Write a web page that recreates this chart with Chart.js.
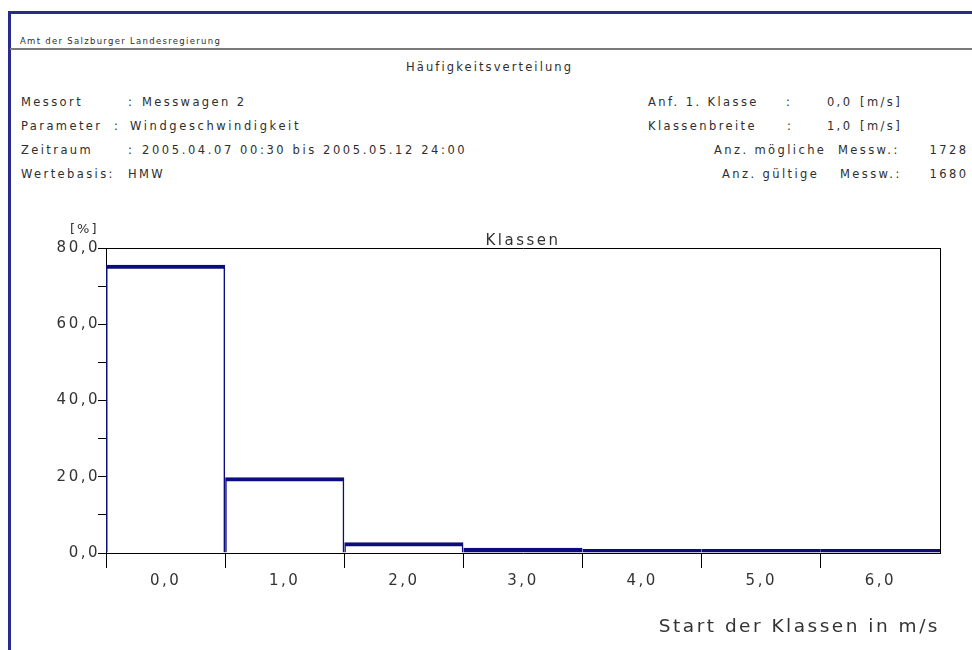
<!DOCTYPE html>
<html>
<head>
<meta charset="utf-8">
<script src="https://cdn.jsdelivr.net/npm/chart.js"></script>
<style>
  body { margin: 0; width: 972px; height: 650px; background: #fff; overflow: hidden; position: relative;
         font-family: "DejaVu Sans", sans-serif; color: #2e2e2e; }
  #frame { position: absolute; left: 8px; top: 11px; width: 990px; height: 700px;
           border-left: 3px solid #2a2a8e; border-top: 3px solid #2a2a8e; }
  #sep { position: absolute; left: 10px; top: 48px; width: 962px; border-top: 2px solid #7a7a7a; }
  .t { position: absolute; white-space: pre; line-height: 1; }
  #chart { position: absolute; left: 0; top: 200px; }
</style>
</head>
<body>
<div id="frame"></div>
<div id="sep"></div>
<canvas id="chart" width="972" height="450"></canvas>
<script>
var classes = ['0,0', '1,0', '2,0', '3,0', '4,0', '5,0', '6,0'];
var percent = [75.6, 19.9, 2.8, 1.4, 0.1, 0.1, 0.1];
var yTicks = ['0,0', '20,0', '40,0', '60,0', '80,0'];

// header texts, x / y = left edge (or right edge) and vertical centre
function label(text, x, y, size, spacing, align) {
  var el = document.createElement('div');
  el.className = 't';
  el.textContent = text;
  el.style.fontSize = size + 'px';
  el.style.letterSpacing = spacing + 'px';
  el.style.top = (y - size * 0.48) + 'px';
  if (align === 'right') el.style.right = (972 - x - spacing) + 'px';
  else el.style.left = x + 'px';
  document.body.appendChild(el);
}

label('Amt der Salzburger Landesregierung', 20, 41, 8.5, 1.3);
label('Häufigkeitsverteilung', 406, 68, 11.5, 2.1);

label('Messort', 21, 103, 11.5, 2.4);
label(':', 128, 103, 11.5, 2.4);
label('Messwagen 2', 142, 103, 11.5, 2.4);
label('Parameter', 21, 127, 11.5, 2.4);
label(':', 114, 127, 11.5, 2.4);
label('Windgeschwindigkeit', 130, 127, 11.5, 2.6);
label('Zeitraum', 21, 151, 11.5, 2.4);
label(':', 128, 151, 11.5, 2.4);
label('2005.04.07 00:30 bis 2005.05.12 24:00', 142, 151, 11.5, 2.6);
label('Wertebasis:', 21, 175, 11.5, 2.4);
label('HMW', 128, 175, 11.5, 2.4);

label('Anf. 1. Klasse', 648, 103, 11.5, 2.4);
label(':', 786, 103, 11.5, 2.4);
label('0,0', 850, 103, 11.5, 2.4, 'right');
label('[m/s]', 860, 103, 11.5, 2.4);
label('Klassenbreite', 648, 127, 11.5, 2.4);
label(':', 787, 127, 11.5, 2.4);
label('1,0', 850, 127, 11.5, 2.4, 'right');
label('[m/s]', 860, 127, 11.5, 2.4);
label('Anz. mögliche', 714, 151, 11.5, 2.4);
label('Messw.:', 838, 151, 11.5, 2.4);
label('1728', 966, 151, 11.5, 2.4, 'right');
label('Anz. gültige', 722, 175, 11.5, 2.4);
label('Messw.:', 840, 175, 11.5, 2.4);
label('1680', 966, 175, 11.5, 2.4, 'right');

label('[%]', 70, 228, 13, 2);

Chart.defaults.font.family = 'DejaVu Sans';
Chart.defaults.color = '#333';

var spacing = {
  id: 'spacing',
  beforeDraw: function(chart) { chart.ctx.letterSpacing = '2.5px'; }
};

var chart = new Chart(document.getElementById('chart'), {
  type: 'bar',
  data: {
    labels: classes,
    datasets: [{
      data: percent,
      backgroundColor: 'rgba(0,0,0,0)',
      borderColor: '#0c0c7e',
      borderSkipped: false,
      // small classes show up as a solid thick line on the base
      borderWidth: function(c) {
        return { top: 4, left: 1.5, right: 1.5, bottom: c.raw < 2 ? 4 : 0 };
      },
      inflateAmount: 0,
      minBarLength: 4,
      barPercentage: 1,
      categoryPercentage: 1
    }]
  },
  options: {
    responsive: false,
    animation: false,
    devicePixelRatio: 1,
    layout: { padding: 0 },
    plugins: { legend: { display: false }, tooltip: { enabled: false } },
    scales: {
      x: {
        afterFit: function(s) { s.height = 97; },
        ticks: { autoSkip: false, maxRotation: 0, padding: 4, font: { size: 15 } },
        grid: {
          offset: true, drawOnChartArea: false, tickLength: 15,
          color: function(c) { return c.type === 'tick' ? '#000' : 'rgba(0,0,0,0)'; }
        },
        border: { color: '#000' },
        title: {
          display: true, text: 'Start der Klassen in m/s', align: 'end',
          font: { size: 18.5 }, padding: { top: 0, bottom: 12 }
        }
      },
      x2: {
        type: 'category',
        position: 'top',
        afterFit: function(s) { s.height = 48; },
        ticks: { display: false },
        grid: { drawOnChartArea: false, drawTicks: false, color: '#000' },
        border: { color: '#000' },
        title: { display: true, text: 'Klassen', font: { size: 15 }, padding: { top: 32, bottom: 0 } }
      },
      y: {
        min: 0,
        max: 80,
        afterFit: function(s) { s.width = 106; },
        ticks: {
          stepSize: 10, autoSkip: false, padding: -2, font: { size: 15 },
          callback: function(v) { return v % 20 === 0 ? yTicks[v / 20] : ''; }
        },
        grid: { drawOnChartArea: false, tickLength: 8, color: '#000' },
        border: { color: '#000' }
      },
      y2: {
        position: 'right',
        min: 0,
        max: 80,
        afterFit: function(s) { s.width = 32; },
        ticks: { display: false },
        grid: { drawOnChartArea: false, drawTicks: false, color: '#000' },
        border: { color: '#000' }
      }
    }
  },
  plugins: [spacing]
});
</script>
</body>
</html>
